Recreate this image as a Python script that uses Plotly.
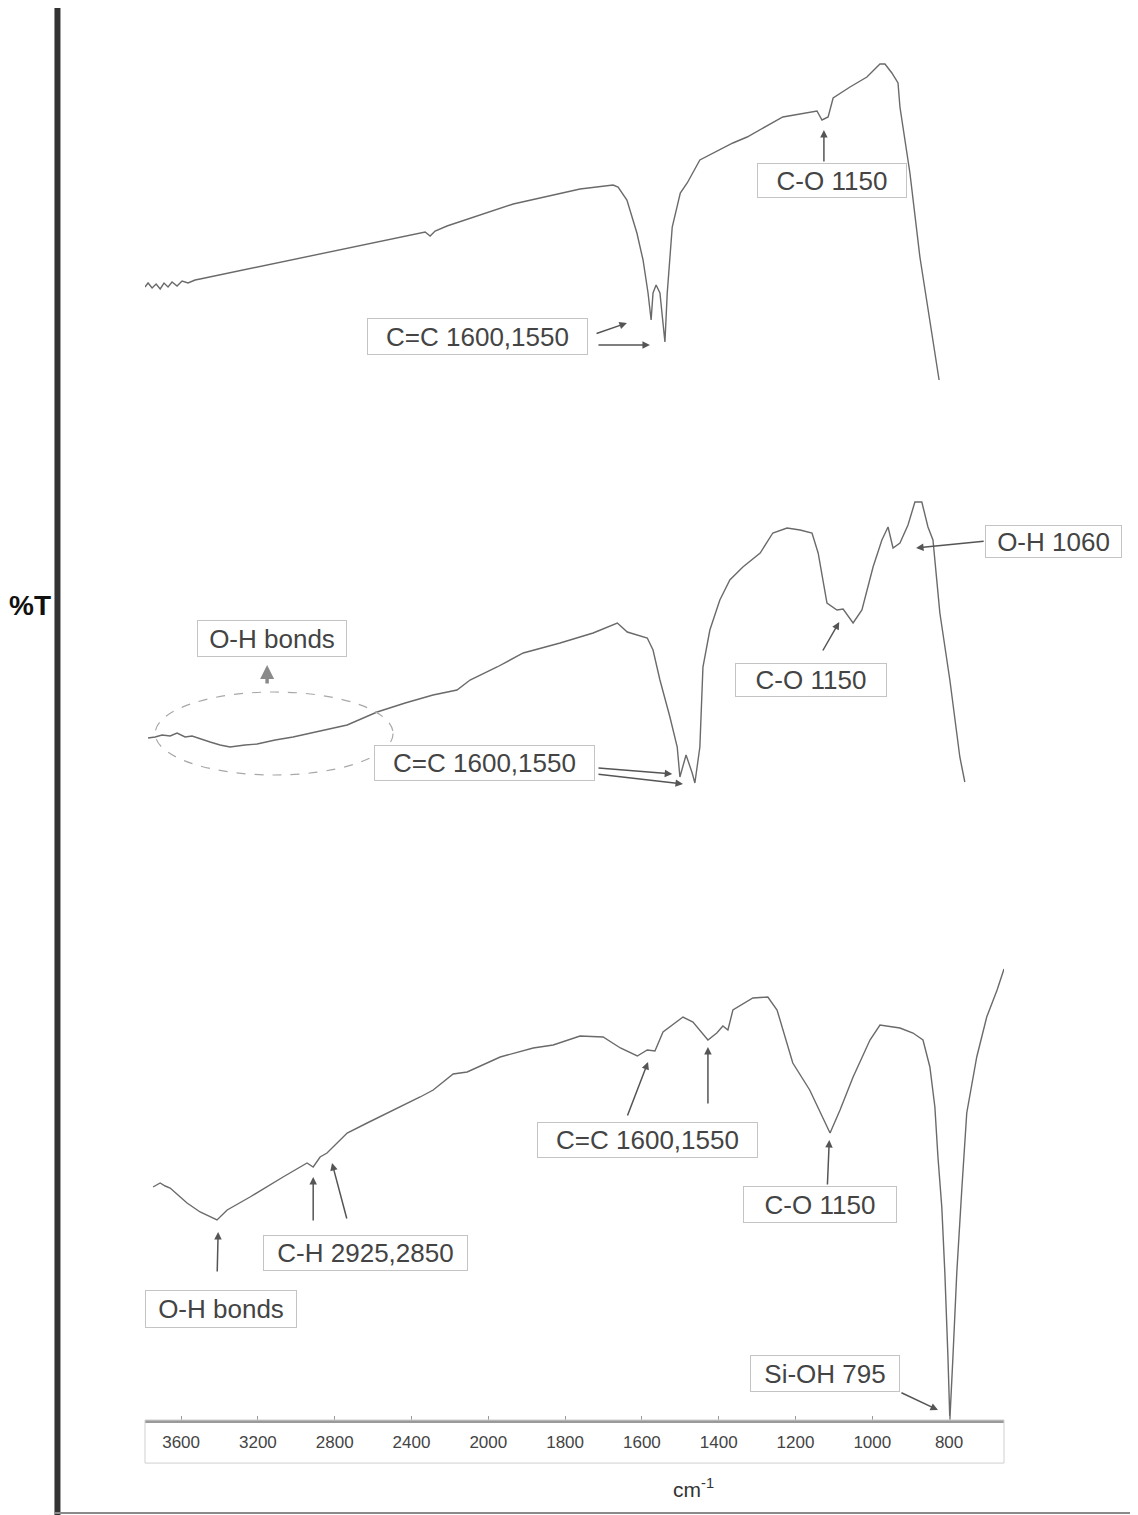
import plotly.graph_objects as go

# ---------------- data (wavenumber in cm-1, transmittance %T incl. stacking offset) -------------
tick_wn = [3600, 3200, 2800, 2400, 2000, 1800, 1600, 1400, 1200, 1000, 800]
tick_text = [str(t) for t in tick_wn]

wn_top = [3788, 3772, 3751, 3730, 3709, 3689, 3668, 3647, 3621, 3595, 3564, 3527, 3501,
          2980, 2564, 2329, 2303, 2277, 2215, 1935, 1761, 1675, 1662, 1639, 1613, 1597, 1584,
          1576, 1571, 1563, 1553, 1540, 1534, 1521, 1500, 1482, 1449, 1415, 1363, 1326, 1233,
          1144, 1131, 1115, 1102, 1058, 1014, 980, 967, 949, 933, 928, 902, 876, 850, 826]
t_top = [113.3, 113.7, 113.2, 113.6, 113.1, 113.7, 113.3, 113.8, 113.4, 113.9, 113.7, 114.0, 114.1,
         116.2, 117.9, 118.8, 118.4, 118.9, 119.4, 121.6, 123.1, 123.5, 123.3, 122.0, 118.7, 116.0, 112.7,
         110.0, 112.7, 113.5, 112.7, 107.8, 112.7, 119.3, 122.7, 123.7, 126.0, 126.7, 127.7, 128.3, 130.3,
         130.9, 130.0, 130.3, 132.2, 133.3, 134.3, 135.6, 135.6, 134.7, 133.7, 131.3, 124.7, 116.3, 109.7, 104.0]

wn_mid = [3772, 3735, 3699, 3657, 3621, 3579, 3543, 3501, 3449, 3397, 3345, 3267, 3204, 3110, 3017,
          2876, 2735, 2579, 2433, 2288, 2163, 2095, 1977, 1909, 1813, 1727, 1664, 1638, 1586, 1571,
          1553, 1527, 1508, 1501, 1485, 1469, 1462, 1449, 1441, 1423, 1397, 1371, 1337, 1292, 1259,
          1222, 1188, 1157, 1141, 1118, 1092, 1076, 1050, 1027, 998, 975, 959, 946, 928, 907, 889,
          871, 855, 842, 824, 798, 772, 759]
t_mid = [68.2, 68.3, 68.5, 68.4, 68.7, 68.3, 68.4, 68.1, 67.8, 67.5, 67.3, 67.5, 67.6, 68.0, 68.3,
         68.9, 69.5, 70.8, 71.7, 72.5, 73.0, 74.0, 75.3, 76.7, 77.7, 78.7, 79.7, 78.8, 78.2, 77.0,
         74.0, 70.3, 67.3, 64.3, 66.5, 64.7, 63.7, 67.3, 75.3, 79.0, 82.0, 84.0, 85.3, 86.7, 88.7,
         89.2, 89.0, 88.7, 86.7, 81.7, 81.0, 81.1, 79.7, 81.0, 85.3, 88.0, 89.3, 87.2, 87.7, 89.5, 91.8,
         91.8, 89.3, 88.0, 80.7, 74.0, 66.3, 63.8]

wn_bot = [3746, 3709, 3683, 3657, 3616, 3569, 3501, 3449, 3413, 3360, 3241, 3069, 2944, 2912, 2876,
          2840, 2808, 2735, 2631, 2459, 2355, 2287, 2183, 2110, 1969, 1883, 1831, 1761, 1701, 1656,
          1612, 1586, 1566, 1545, 1493, 1467, 1428, 1405, 1389, 1376, 1363, 1311, 1272, 1248, 1207,
          1163, 1129, 1110, 1084, 1050, 1006, 980, 928, 894, 868, 850, 837, 829, 819, 811, 803, 798,
          790, 780, 767, 754, 728, 702, 675, 657]
t_bot = [23.3, 23.7, 23.4, 23.2, 22.5, 21.7, 20.8, 20.3, 20.0, 21.0, 22.3, 24.3, 25.7, 25.3, 26.3,
         26.7, 27.3, 28.7, 29.7, 31.3, 32.3, 33.0, 34.6, 34.8, 36.3, 37.2, 37.5, 38.4, 38.3, 37.2,
         36.4, 37.0, 36.9, 38.8, 40.3, 39.8, 38.0, 38.7, 39.4, 39.0, 41.0, 42.2, 42.3, 41.0, 35.7,
         33.0, 30.3, 28.7, 31.0, 34.3, 38.0, 39.5, 39.2, 38.7, 38.0, 35.3, 31.3, 26.3, 21.3, 14.7, 6.3, 0.0,
         6.3, 14.7, 23.0, 30.7, 36.3, 40.3, 43.0, 45.1]

# label boxes: text, centre wavenumber, centre %T, box width px, box height px
box_text = ["C-O 1150", "C=C 1600,1550", "O-H 1060", "C-O 1150", "O-H bonds", "C=C 1600,1550",
            "O-H bonds", "C-H 2925,2850", "C=C 1600,1550", "C-O 1150", "Si-OH 795"]
box_wn = [1105, 2056, 529, 1159, 3126, 2019, 3392, 2639, 1585, 1136, 1123]
box_t = [124.0, 108.35, 87.9, 74.0, 78.2, 65.75, 11.1, 16.7, 28.0, 21.55, 4.7]
box_w = [150, 221, 137, 152, 150, 221, 152, 205, 221, 154, 150]
box_h = [35, 37, 33, 34, 37, 36, 38, 36, 36, 37, 37]

# arrows: tail (wn, %T) -> head (wn, %T)
arr_tail_wn = [1126, 1722, 1717, 706, 1131, 1717, 1717, 3412, 2912, 2735, 1639, 1428, 1117, 928]
arr_tail_t = [125.7, 108.6, 107.5, 87.9, 76.8, 65.2, 64.6, 14.7, 19.8, 20.0, 30.3, 31.5, 23.4, 2.8]
arr_head_wn = [1126, 1639, 1579, 886, 1086, 1521, 1493, 3407, 2912, 2814, 1584, 1428, 1112, 829]
arr_head_t = [129.0, 109.7, 107.5, 87.2, 79.8, 64.6, 63.6, 18.8, 24.3, 25.7, 35.8, 37.3, 28.0, 1.0]

X_MIN_WN, X_MAX_WN = 3788, 657
T_RANGE = [0, 141.2]


def pos(w):
    """Broken wavenumber scale: 400 cm-1 per division above 2000, 200 below."""
    return (3600 - w) / 400 if w >= 2000 else 4 + (2000 - w) / 200


XR = [pos(X_MIN_WN), pos(X_MAX_WN)]


def paper_x(w):
    return (pos(w) - XR[0]) / (XR[1] - XR[0])


LINE = "#6a6a6a"
TXT = "#444444"
FONT = "Liberation Sans, Arial, sans-serif"

fig = go.Figure()
for wn, tv in [(wn_top, t_top), (wn_mid, t_mid), (wn_bot, t_bot)]:
    fig.add_trace(go.Scatter(x=[pos(w) for w in wn], y=tv, mode="lines",
                             line=dict(color=LINE, width=1.4), showlegend=False,
                             hoverinfo="skip"))

ann = []
for s, w, t, bw, bh in zip(box_text, box_wn, box_t, box_w, box_h):
    ann.append(dict(text=s, x=paper_x(w), y=t, xref="paper", yref="y", showarrow=False,
                    xanchor="center", yanchor="middle", width=bw - 2, height=bh - 2,
                    borderpad=0, bordercolor="#c4c4c4", borderwidth=1, bgcolor="white",
                    font=dict(family=FONT, size=26, color=TXT)))
for tw, tt, hw, ht in zip(arr_tail_wn, arr_tail_t, arr_head_wn, arr_head_t):
    ann.append(dict(text="", x=pos(hw), y=ht, ax=pos(tw), ay=tt, xref="x", yref="y",
                    axref="x", ayref="y", showarrow=True, arrowhead=2, arrowsize=1,
                    arrowwidth=1.5, arrowcolor="#555555", standoff=0, startstandoff=0))
# hollow double arrow above the ellipse (middle spectrum)
ann.append(dict(text="", x=pos(3152), y=75.5, ax=pos(3152), ay=73.5, xref="x", yref="y",
                axref="x", ayref="y", showarrow=True, arrowhead=2, arrowsize=0.8,
                arrowwidth=3.5, arrowcolor="#8a8a8a", standoff=0))
# axis title and %T
ann.append(dict(text="cm<sup>-1</sup>", x=0.638, y=-0.0482, xref="paper", yref="paper",
                showarrow=False, xanchor="center", yanchor="middle",
                font=dict(family=FONT, size=21, color="#333333")))
ann.append(dict(text="<b>%T</b>", x=-0.1335, y=0.5765, xref="paper", yref="paper",
                showarrow=False, xanchor="center", yanchor="middle",
                font=dict(family=FONT, size=28, color="#111111")))

shapes = [
    # dashed ellipse around the O-H region of the middle spectrum
    dict(type="circle", xref="x", yref="y", x0=pos(3735), x1=pos(2496), y0=64.5, y1=72.8,
         line=dict(color="#a8a8a8", width=1.2, dash="dash")),
    # box under the tick labels
    dict(type="rect", xref="paper", yref="paper", x0=0, x1=1, y0=-0.0305, y1=0,
         line=dict(color="#d0d0d0", width=1)),
    # thick left frame line
    dict(type="line", xref="paper", yref="paper", x0=-0.1019, x1=-0.1019, y0=1.0, y1=-0.0680,
         line=dict(color="#333333", width=6)),
    # bottom frame line
    dict(type="line", xref="paper", yref="paper", x0=-0.105, x1=1.16, y0=-0.0659, y1=-0.0659,
         line=dict(color="#8a8a8a", width=2)),
]

fig.update_layout(
    width=1130, height=1507,
    margin=dict(l=137, r=134, t=0, b=95),
    paper_bgcolor="white", plot_bgcolor="white",
    annotations=ann, shapes=shapes,
    xaxis=dict(range=XR, tickmode="array",
               tickvals=[pos(w) for w in tick_wn], ticktext=tick_text,
               showgrid=False, zeroline=False, showline=True, linecolor="#9a9a9a",
               linewidth=3, ticks="inside", ticklen=4, tickcolor="#9a9a9a",
               ticklabelstandoff=5,
               tickfont=dict(family="Liberation Sans Narrow, Arial Narrow, Liberation Sans",
                             size=17, color="#444444")),
    yaxis=dict(range=T_RANGE, visible=False, showgrid=False, zeroline=False),
)

fig.write_html("out.html")
